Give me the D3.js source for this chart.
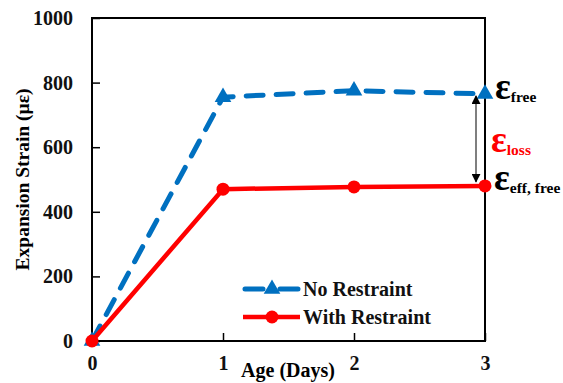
<!DOCTYPE html>
<html>
<head>
<meta charset="utf-8">
<script src="https://cdn.jsdelivr.net/npm/d3@7"></script>
</head>
<body style="margin:0;background:#fff">
<svg id="chart" width="563" height="383"></svg>
<script>
// data
const days = [0, 1, 2, 3];
const noRestraint = [0, 755, 775, 765];
const withRestraint = [0, 470, 477, 480];
const yTicks = [0, 200, 400, 600, 800, 1000];
const xTicks = [0, 1, 2, 3];

const FONT = '"Liberation Serif"';
const svg = d3.select('#chart');
const margin = { left: 92, right: 78, top: 18, bottom: 42 };
const width = 563, height = 383;

const x = d3.scaleLinear().domain([0, 3]).range([margin.left, width - margin.right]);
const y = d3.scaleLinear().domain([0, 1000]).range([height - margin.bottom, margin.top]);

// plot box
svg.append('rect')
    .attr('x', x(0)).attr('y', y(1000))
    .attr('width', x(3) - x(0)).attr('height', y(0) - y(1000))
    .attr('fill', 'none').attr('stroke', '#000').attr('stroke-width', 2);

// ticks pointing inward
const yAxis = svg.append('g')
    .attr('transform', `translate(${x(0)},0)`)
    .call(d3.axisLeft(y).tickValues(yTicks).tickFormat(d3.format('d')).tickSize(-8).tickPadding(19));
const xAxis = svg.append('g')
    .attr('transform', `translate(0,${y(0)})`)
    .call(d3.axisBottom(x).tickValues(xTicks).tickFormat(d3.format('d')).tickSize(-8).tickPadding(15));
[yAxis, xAxis].forEach(a => {
    a.select('.domain').remove();
    a.selectAll('line').attr('stroke', '#000').attr('stroke-width', 1.5);
    a.selectAll('text').attr('fill', '#111');
});

// axis titles
svg.append('text')
    .attr('transform', `translate(29,${(y(0) + y(1000)) / 2}) rotate(-90)`)
    .attr('text-anchor', 'middle').attr('font-size', 19.5)
    .text('Expansion Strain (\u03bc\u03b5)');
svg.append('text')
    .attr('x', 288).attr('y', 377)
    .attr('text-anchor', 'middle').attr('font-size', 20)
    .text('Age (Days)');

const line = d3.line().x((d, i) => x(days[i])).y(d => y(d));

// no restraint: blue dashed with triangles
svg.append('path').datum(noRestraint)
    .attr('d', line).attr('fill', 'none')
    .attr('stroke', '#0070c0').attr('stroke-width', 5)
    .attr('stroke-dasharray', '17,13').attr('stroke-linecap', 'round');
svg.selectAll('.tri').data(noRestraint).join('path')
    .attr('class', 'tri')
    .attr('d', d3.symbol(d3.symbolTriangle, 120))
    .attr('transform', (d, i) => `translate(${x(days[i])},${y(d)})`)
    .attr('fill', '#0070c0');

// with restraint: red solid with circles
svg.append('path').datum(withRestraint)
    .attr('d', line).attr('fill', 'none')
    .attr('stroke', '#ff0000').attr('stroke-width', 4.5);
svg.selectAll('.dot').data(withRestraint).join('circle')
    .attr('class', 'dot')
    .attr('cx', (d, i) => x(days[i])).attr('cy', d => y(d))
    .attr('r', 6.5).attr('fill', '#ff0000');

// double-headed arrow between the two series at day 3
const defs = svg.append('defs');
defs.append('marker').attr('id', 'ah')
    .attr('viewBox', '0 0 10 10').attr('refX', 9).attr('refY', 5)
    .attr('markerWidth', 6).attr('markerHeight', 6).attr('orient', 'auto-start-reverse')
    .append('path').attr('d', 'M0,0L10,5L0,10Z').attr('fill', '#000');
svg.append('line')
    .attr('x1', 476).attr('x2', 476)
    .attr('y1', y(noRestraint[3]) + 2).attr('y2', y(withRestraint[3]) - 4)
    .attr('stroke', '#555').attr('stroke-width', 1.5)
    .attr('marker-start', 'url(#ah)').attr('marker-end', 'url(#ah)');

// annotations
function eps(xp, yp, sub, color) {
    const t = svg.append('text').attr('x', xp).attr('y', yp).attr('fill', color);
    t.append('tspan').attr('font-size', 37).text('\u03b5');
    t.append('tspan').attr('font-size', 15.5).attr('dy', 3).text(sub);
}
eps(495, 99, 'free', '#000');
eps(491, 152, 'loss', '#ff0000');
eps(494, 190, 'eff, free', '#000');

// legend
const legend = [
    { name: 'No Restraint', color: '#0070c0', dash: '18,17', sym: 'tri' },
    { name: 'With Restraint', color: '#ff0000', dash: null, sym: 'dot' }
];
const lg = svg.selectAll('.lg').data(legend).join('g')
    .attr('class', 'lg')
    .attr('transform', (d, i) => `translate(243,${289 + i * 28})`);
lg.append('line').attr('x1', d => d.dash ? 2 : 0).attr('x2', d => d.dash ? 55 : 57)
    .attr('stroke', d => d.color).attr('stroke-width', d => d.dash ? 5 : 4.5)
    .attr('stroke-dasharray', d => d.dash)
    .attr('stroke-linecap', d => d.dash ? 'round' : 'butt');
lg.filter(d => d.sym === 'tri').append('path')
    .attr('d', d3.symbol(d3.symbolTriangle, 120)).attr('transform', 'translate(29,0)')
    .attr('fill', d => d.color);
lg.filter(d => d.sym === 'dot').append('circle')
    .attr('cx', 29).attr('r', 6.5).attr('fill', d => d.color);
lg.append('text').attr('x', 60).attr('y', 7).attr('font-size', 20)
    .attr('fill', '#111').text(d => d.name);

// set the serif font on every text node directly
svg.selectAll('text')
    .attr('font-family', FONT)
    .attr('font-weight', 'bold');
svg.selectAll('.tick text').attr('font-size', 20);
</script>
</body>
</html>
